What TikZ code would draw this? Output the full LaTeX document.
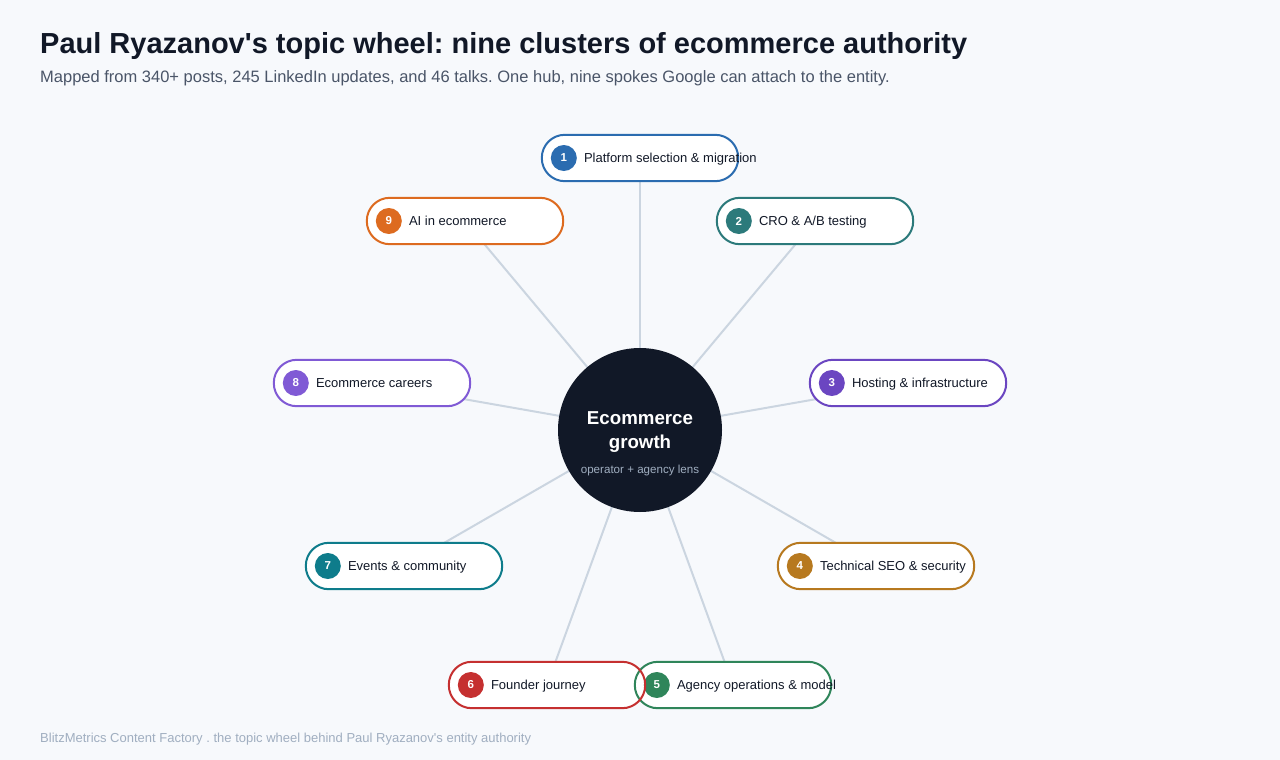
\documentclass[tikz,border=0pt]{standalone}
\usepackage{fontspec}
\setmainfont{Liberation Sans}[Ligatures=TeXOff]
\usetikzlibrary{calc}
\frenchspacing
\definecolor{bgc}{HTML}{F7F9FC}
\definecolor{hubc}{HTML}{111827}
\definecolor{titlec}{HTML}{111827}
\definecolor{subc}{HTML}{4A5568}
\definecolor{footc}{HTML}{A0AEC0}
\definecolor{spokec}{HTML}{CBD5E0}
\definecolor{hubsub}{HTML}{A0AEC0}
\definecolor{cA}{HTML}{2B6CB0}
\definecolor{cB}{HTML}{2C7A7B}
\definecolor{cC}{HTML}{6B46C1}
\definecolor{cD}{HTML}{B7791F}
\definecolor{cE}{HTML}{2F855A}
\definecolor{cF}{HTML}{C53030}
\definecolor{cG}{HTML}{0E7C8B}
\definecolor{cH}{HTML}{805AD5}
\definecolor{cI}{HTML}{DD6B20}
\pgfdeclarelayer{bglayer}
\pgfdeclarelayer{spokelayer}
\pgfsetlayers{bglayer,spokelayer,main}
\tikzset{
  pillfill/.style={fill=white, draw=none, minimum width=196pt, minimum height=46pt, inner sep=0pt, rounded corners=23pt},
  pillborder/.style={line width=2pt, rounded corners=23pt},
  numdot/.style={circle, minimum size=26pt, inner sep=0pt, text=white, font=\fontsize{11.5}{13}\selectfont\bfseries},
  pilltext/.style={anchor=base west, inner sep=0pt, text=titlec, font=\fontsize{13}{15}\selectfont},
  spoke/.style={draw=spokec, line width=2pt},
}
\begin{document}
\begin{tikzpicture}[x=1pt,y=-1pt]
\begin{pgfonlayer}{bglayer}
\fill[bgc] (0,0) rectangle (1280,760);
\end{pgfonlayer}
\useasboundingbox (0,0) rectangle (1280,760);

\node[anchor=base west, inner sep=0pt, text=titlec, font=\fontsize{29}{33}\selectfont\bfseries] (title) at (40,54) {Paul Ryazanov\textquotesingle s topic wheel: nine clusters of ecommerce authority};
\node[anchor=base west, inner sep=0pt, text=subc, font=\fontsize{16.5}{19}\selectfont] (subtitle) at (40,82) {Mapped from 340+ posts, 245 LinkedIn updates, and 46 talks. One hub, nine spokes Google can attach to the entity.};
\node[anchor=base west, inner sep=0pt, text=footc, font=\fontsize{13}{15}\selectfont] (footer) at (40,742) {BlitzMetrics Content Factory . the topic wheel behind Paul Ryazanov\textquotesingle s entity authority};

% hub
\node[circle, fill=hubc, minimum size=164pt, inner sep=0pt] (hub) at (640,430) {};
\node[text=white, font=\fontsize{18.7}{24}\selectfont\bfseries, align=center, inner sep=0pt] (hubtitle) at (640,432) {Ecommerce\\growth};
\node[text=hubsub, font=\fontsize{11.6}{13}\selectfont, inner sep=0pt] (hubsubtitle) at (640,470) {operator + agency lens};

% pill fills
\foreach \n/\x/\y in {1/640/158, 2/815/221, 3/908/383, 4/876/566, 5/733/685, 6/547/685, 7/404/566, 8/372/383, 9/465/221}{
  \node[pillfill] (p\n) at (\x,\y) {};
}

% spokes
\begin{pgfonlayer}{spokelayer}
\foreach \n in {1,...,9}{
  \draw[spoke] (hub.center) -- (p\n.center);
}
\end{pgfonlayer}

% pill borders, numbers, labels
\foreach \n/\c/\t in {1/cA/{Platform selection \& migration}, 2/cB/{CRO \& A/B testing}, 3/cC/{Hosting \& infrastructure}, 4/cD/{Technical SEO \& security}, 5/cE/{Agency operations \& model}, 6/cF/{Founder journey}, 7/cG/{Events \& community}, 8/cH/{Ecommerce careers}, 9/cI/{AI in ecommerce}}{
  \draw[pillborder, draw=\c] (p\n.south west) rectangle (p\n.north east);
  \node[numdot, fill=\c] (n\n) at ($(p\n.west)+(22,0)$) {\n};
  \node[pilltext] (t\n) at ($(p\n.west)+(42,4.6)$) {\t};
}
\end{tikzpicture}
\end{document}
